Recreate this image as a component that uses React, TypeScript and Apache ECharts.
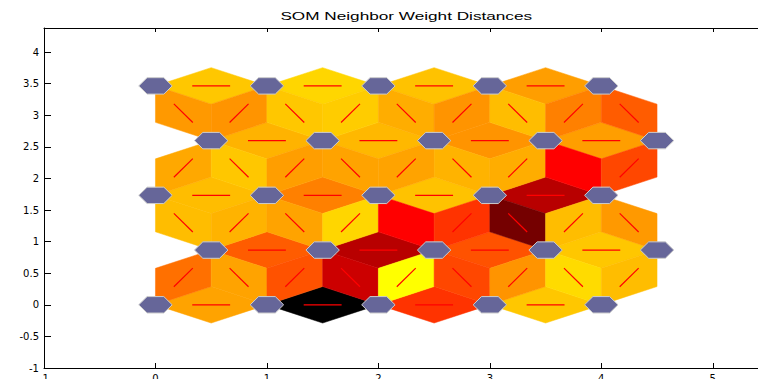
import React, { useEffect, useRef } from 'react';
import * as echarts from 'echarts';

// SOM topology: 5 x 5 hexagonal grid
const gridCols = 5;
const gridRows = 5;

// Neighbour weight distances (0 = closest / yellow, 1 = farthest / black)
// Horizontal neighbours, one list per row (bottom to top), left to right
const hDist: number[][] = [
  [0.18, 1.0, 0.4, 0.11],
  [0.32, 0.64, 0.34, 0.11],
  [0.13, 0.25, 0.12, 0.64],
  [0.15, 0.14, 0.21, 0.19],
  [0.11, 0.08, 0.12, 0.19],
];
// Diagonal neighbours between row g and row g+1, left to right
const dDist: number[][] = [
  [0.28, 0.18, 0.34, 0.6, 0.0, 0.36, 0.21, 0.07, 0.13],
  [0.13, 0.15, 0.18, 0.08, 0.5, 0.4, 0.77, 0.13, 0.2],
  [0.17, 0.11, 0.19, 0.18, 0.18, 0.15, 0.16, 0.5, 0.36],
  [0.2, 0.21, 0.11, 0.1, 0.16, 0.21, 0.13, 0.25, 0.32],
];

const xTicks = [-1, 0, 1, 2, 3, 4, 5];
const yTicks = [-1, -0.5, 0, 0.5, 1, 1.5, 2, 2.5, 3, 3.5, 4];
const chartTitle = 'SOM Neighbor Weight Distances';

const H = Math.sqrt(0.75);
function neuronPos(row: number, col: number): [number, number] {
  return [col + (row % 2 ? 0.5 : 0), row * H];
}

function buildEdges() {
  const edges: number[][] = [];
  for (let r = 0; r < gridRows; r++) {
    for (let k = 0; k < gridCols - 1; k++) {
      const a = neuronPos(r, k);
      const b = neuronPos(r, k + 1);
      edges.push([a[0], a[1], b[0], b[1], hDist[r][k]]);
    }
  }
  for (let g = 0; g < gridRows - 1; g++) {
    for (let m = 0; m < 2 * gridCols - 1; m++) {
      let lc: number, uc: number;
      if (g % 2 === 0) {
        if (m % 2 === 0) { lc = m / 2; uc = m / 2; } else { lc = (m + 1) / 2; uc = (m - 1) / 2; }
      } else {
        if (m % 2 === 0) { lc = m / 2; uc = m / 2; } else { lc = (m - 1) / 2; uc = (m + 1) / 2; }
      }
      const a = neuronPos(g, lc);
      const b = neuronPos(g + 1, uc);
      edges.push([a[0], a[1], b[0], b[1], dDist[g][m]]);
    }
  }
  return edges;
}

function buildNeurons() {
  const n: number[][] = [];
  for (let r = 0; r < gridRows; r++) for (let c = 0; c < gridCols; c++) n.push(neuronPos(r, c));
  return n;
}

function hotColor(d: number) {
  const t = 1 - Math.max(0, Math.min(1, d));
  let r: number, g: number;
  if (t < 0.5) { r = Math.round(510 * t); g = 0; } else { r = 255; g = Math.round(510 * (t - 0.5)); }
  return `rgb(${r},${g},0)`;
}

export default function App() {
  const ref = useRef<HTMLDivElement>(null);
  useEffect(() => {
    if (!ref.current) return;
    const chart = echarts.init(ref.current, undefined, { renderer: 'svg' });
    const R = 0.15 * Math.cos(Math.PI / 6);
    const TC = 1 / Math.sqrt(3);
    const a30 = Math.PI / 6;
    const gridLeft = 44;
    const plotW = 724.5;

    const axisFont = { fontFamily: 'DejaVu Sans', fontSize: 10, color: '#000' };

    chart.setOption({
      animation: false,
      backgroundColor: '#fff',
      grid: { left: gridLeft, width: plotW, top: 28, bottom: 11, containLabel: false, outerBoundsMode: 'none' },
      xAxis: [
        {
          type: 'value', min: -1, max: 5.5, position: 'bottom',
          axisLine: { onZero: false, lineStyle: { color: '#000', width: 1 } },
          axisTick: { inside: true, length: 5, lineStyle: { color: '#000' }, customValues: xTicks },
          axisLabel: { ...axisFont, margin: 5, customValues: xTicks },
          splitLine: { show: false },
        },
        {
          type: 'value', min: -1, max: 5.5, position: 'top',
          axisLine: { onZero: false, lineStyle: { color: '#000', width: 1 } },
          axisTick: { inside: true, length: 4, lineStyle: { color: '#000' }, customValues: xTicks },
          axisLabel: { show: false },
          splitLine: { show: false },
        },
      ],
      yAxis: [
        {
          type: 'value', min: -1, max: 4.38, position: 'left',
          axisLine: { onZero: false, lineStyle: { color: '#000', width: 1 } },
          axisTick: { inside: true, length: 7, lineStyle: { color: '#000' }, customValues: yTicks },
          axisLabel: { ...axisFont, margin: 5, customValues: yTicks },
          splitLine: { show: false },
        },
      ],
      graphic: [
        {
          type: 'text',
          x: gridLeft + plotW / 2,
          y: 16,
          scaleX: 1.72,
          style: {
            text: chartTitle,
            font: '10px "Liberation Sans"',
            fill: '#000',
            textAlign: 'center',
            textVerticalAlign: 'middle',
          },
        },
      ],
      series: [
        {
          type: 'custom',
          xAxisIndex: 0,
          yAxisIndex: 0,
          data: buildEdges(),
          encode: { x: [0, 2], y: [1, 3] },
          renderItem: (params: any, api: any) => {
            const xi = api.value(0), yi = api.value(1), xj = api.value(2), yj = api.value(3), d = api.value(4);
            const th = Math.atan2(yj - yi, xj - xi);
            const p = (x: number, y: number, r: number, a: number) => api.coord([x + r * Math.cos(a), y + r * Math.sin(a)]);
            const pts = [
              p(xi, yi, R, th + a30),
              p(xi, yi, TC, th + a30),
              p(xj, yj, R, th + Math.PI - a30),
              p(xj, yj, R, th + Math.PI + a30),
              p(xi, yi, TC, th - a30),
              p(xi, yi, R, th - a30),
            ];
            const s = api.coord([xi + 0.33 * (xj - xi), yi + 0.33 * (yj - yi)]);
            const e = api.coord([xi + 0.67 * (xj - xi), yi + 0.67 * (yj - yi)]);
            const col = hotColor(d);
            return {
              type: 'group',
              children: [
                { type: 'polygon', shape: { points: pts }, style: { fill: col, stroke: col, lineWidth: 0.5 } },
                { type: 'line', shape: { x1: s[0], y1: s[1], x2: e[0], y2: e[1] }, style: { stroke: '#ff0000', lineWidth: 1.2 } },
              ],
            };
          },
          z: 2,
        },
        {
          type: 'custom',
          xAxisIndex: 0,
          yAxisIndex: 0,
          data: buildNeurons(),
          encode: { x: 0, y: 1 },
          renderItem: (params: any, api: any) => {
            const x = api.value(0), y = api.value(1);
            const pts: number[][] = [];
            for (let k = 0; k < 6; k++) {
              const a = (k * Math.PI) / 3;
              pts.push(api.coord([x + 0.15 * Math.cos(a), y + 0.15 * Math.sin(a)]));
            }
            return {
              type: 'polygon',
              shape: { points: pts },
              style: { fill: 'rgb(102,102,153)', stroke: 'rgb(204,204,204)', lineWidth: 1 },
            };
          },
          z: 3,
        },
      ],
    });
    return () => chart.dispose();
  }, []);
  return <div ref={ref} style={{ width: 758, height: 379, position: 'absolute', left: 0, top: 0 }} />;
}
